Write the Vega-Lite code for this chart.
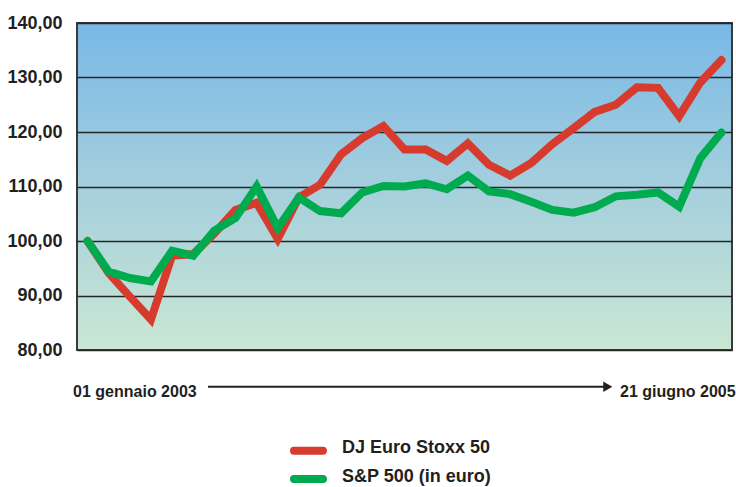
{
  "$schema": "https://vega.github.io/schema/vega-lite/v6.json",
  "width": 655,
  "height": 327,
  "autosize": {"type": "none"},
  "padding": {"left": 77, "top": 23, "right": 4, "bottom": 137},
  "background": "white",
  "config": {
    "locale": {"number": {"decimal": ",", "thousands": ".", "grouping": [3], "currency": ["€", ""]}},
    "font": "Liberation Sans, Arial, sans-serif",
    "view": {
      "stroke": "#3a3a3a",
      "strokeWidth": 2,
      "fill": {"gradient": "linear", "x1": 0, "y1": 0, "x2": 0, "y2": 1,
        "stops": [
          {"offset": 0, "color": "#78b8e6"},
          {"offset": 0.5, "color": "#a5cfdd"},
          {"offset": 1, "color": "#cae7d3"}
        ]}
    }
  },
  "data": {"values": [
    {"t": 0, "serie": "DJ Euro Stoxx 50", "v": 100.0},
    {"t": 1, "serie": "DJ Euro Stoxx 50", "v": 94.1},
    {"t": 2, "serie": "DJ Euro Stoxx 50", "v": 89.8},
    {"t": 3, "serie": "DJ Euro Stoxx 50", "v": 85.6},
    {"t": 4, "serie": "DJ Euro Stoxx 50", "v": 97.3},
    {"t": 5, "serie": "DJ Euro Stoxx 50", "v": 97.6},
    {"t": 6, "serie": "DJ Euro Stoxx 50", "v": 101.4},
    {"t": 7, "serie": "DJ Euro Stoxx 50", "v": 105.7},
    {"t": 8, "serie": "DJ Euro Stoxx 50", "v": 107.0},
    {"t": 9, "serie": "DJ Euro Stoxx 50", "v": 100.4},
    {"t": 10, "serie": "DJ Euro Stoxx 50", "v": 108.0},
    {"t": 11, "serie": "DJ Euro Stoxx 50", "v": 110.3},
    {"t": 12, "serie": "DJ Euro Stoxx 50", "v": 115.9},
    {"t": 13, "serie": "DJ Euro Stoxx 50", "v": 118.9},
    {"t": 14, "serie": "DJ Euro Stoxx 50", "v": 121.1},
    {"t": 15, "serie": "DJ Euro Stoxx 50", "v": 116.8},
    {"t": 16, "serie": "DJ Euro Stoxx 50", "v": 116.8},
    {"t": 17, "serie": "DJ Euro Stoxx 50", "v": 114.7},
    {"t": 18, "serie": "DJ Euro Stoxx 50", "v": 117.9},
    {"t": 19, "serie": "DJ Euro Stoxx 50", "v": 114.0},
    {"t": 20, "serie": "DJ Euro Stoxx 50", "v": 112.0},
    {"t": 21, "serie": "DJ Euro Stoxx 50", "v": 114.3},
    {"t": 22, "serie": "DJ Euro Stoxx 50", "v": 117.8},
    {"t": 23, "serie": "DJ Euro Stoxx 50", "v": 120.7},
    {"t": 24, "serie": "DJ Euro Stoxx 50", "v": 123.7},
    {"t": 25, "serie": "DJ Euro Stoxx 50", "v": 125.0},
    {"t": 26, "serie": "DJ Euro Stoxx 50", "v": 128.2},
    {"t": 27, "serie": "DJ Euro Stoxx 50", "v": 128.1},
    {"t": 28, "serie": "DJ Euro Stoxx 50", "v": 122.9},
    {"t": 29, "serie": "DJ Euro Stoxx 50", "v": 129.1},
    {"t": 30, "serie": "DJ Euro Stoxx 50", "v": 133.2},
    {"t": 0, "serie": "S&P 500 (in euro)", "v": 100.0},
    {"t": 1, "serie": "S&P 500 (in euro)", "v": 94.4},
    {"t": 2, "serie": "S&P 500 (in euro)", "v": 93.2},
    {"t": 3, "serie": "S&P 500 (in euro)", "v": 92.6},
    {"t": 4, "serie": "S&P 500 (in euro)", "v": 98.2},
    {"t": 5, "serie": "S&P 500 (in euro)", "v": 97.3},
    {"t": 6, "serie": "S&P 500 (in euro)", "v": 101.9},
    {"t": 7, "serie": "S&P 500 (in euro)", "v": 104.2},
    {"t": 8, "serie": "S&P 500 (in euro)", "v": 110.0},
    {"t": 9, "serie": "S&P 500 (in euro)", "v": 102.4},
    {"t": 10, "serie": "S&P 500 (in euro)", "v": 108.0},
    {"t": 11, "serie": "S&P 500 (in euro)", "v": 105.5},
    {"t": 12, "serie": "S&P 500 (in euro)", "v": 105.1},
    {"t": 13, "serie": "S&P 500 (in euro)", "v": 108.9},
    {"t": 14, "serie": "S&P 500 (in euro)", "v": 110.1},
    {"t": 15, "serie": "S&P 500 (in euro)", "v": 110.0},
    {"t": 16, "serie": "S&P 500 (in euro)", "v": 110.6},
    {"t": 17, "serie": "S&P 500 (in euro)", "v": 109.5},
    {"t": 18, "serie": "S&P 500 (in euro)", "v": 112.0},
    {"t": 19, "serie": "S&P 500 (in euro)", "v": 109.1},
    {"t": 20, "serie": "S&P 500 (in euro)", "v": 108.6},
    {"t": 21, "serie": "S&P 500 (in euro)", "v": 107.2},
    {"t": 22, "serie": "S&P 500 (in euro)", "v": 105.7},
    {"t": 23, "serie": "S&P 500 (in euro)", "v": 105.2},
    {"t": 24, "serie": "S&P 500 (in euro)", "v": 106.2},
    {"t": 25, "serie": "S&P 500 (in euro)", "v": 108.2},
    {"t": 26, "serie": "S&P 500 (in euro)", "v": 108.5},
    {"t": 27, "serie": "S&P 500 (in euro)", "v": 108.9},
    {"t": 28, "serie": "S&P 500 (in euro)", "v": 106.3},
    {"t": 29, "serie": "S&P 500 (in euro)", "v": 115.2},
    {"t": 30, "serie": "S&P 500 (in euro)", "v": 119.9}
  ]},
  "layer": [
    {
      "mark": {"type": "line", "strokeWidth": 8, "strokeCap": "round", "strokeJoin": "miter"},
      "encoding": {
        "x": {"field": "t", "type": "quantitative", "scale": {"domain": [-0.5, 30.5], "nice": false, "zero": false}, "axis": null},
        "y": {"field": "v", "type": "quantitative",
          "scale": {"domain": [80, 140], "nice": false, "zero": false},
          "axis": {"title": null, "values": [80, 90, 100, 110, 120, 130, 140], "format": ".2f",
            "domain": false, "ticks": false, "labelPadding": 15,
            "labelFont": "Liberation Sans, Arial, sans-serif",
            "labelFontSize": 18, "labelFontWeight": "bold", "labelColor": "#231f20",
            "gridColor": "#262626", "gridWidth": 1.3, "gridOpacity": 1}},
        "color": {"field": "serie", "type": "nominal",
          "scale": {"domain": ["DJ Euro Stoxx 50", "S&P 500 (in euro)"], "range": ["#d63b2d", "#00ab4f"]},
          "legend": null}
      }
    },
    {
      "data": {"values": [{}]},
      "mark": {"type": "text", "text": "01 gennaio 2003", "align": "right", "baseline": "alphabetic",
        "fontSize": 16, "fontWeight": "bold", "color": "#231f20"},
      "encoding": {"x": {"datum": 5.165}, "y": {"datum": 71.45}}
    },
    {
      "data": {"values": [{}]},
      "mark": {"type": "text", "text": "21 giugno 2005", "align": "left", "baseline": "alphabetic",
        "fontSize": 16, "fontWeight": "bold", "color": "#231f20"},
      "encoding": {"x": {"datum": 25.2}, "y": {"datum": 71.45}}
    },
    {
      "data": {"values": [{}]},
      "mark": {"type": "rule", "strokeWidth": 2, "color": "#231f20"},
      "encoding": {"x": {"datum": 5.7}, "x2": {"datum": 24.5}, "y": {"datum": 73.27}}
    },
    {
      "data": {"values": [{}]},
      "mark": {"type": "point", "shape": "triangle-right", "filled": true, "size": 110, "opacity": 1, "color": "#231f20"},
      "encoding": {"x": {"datum": 24.62}, "y": {"datum": 73.27}}
    },
    {
      "data": {"values": [{}]},
      "mark": {"type": "rule", "strokeWidth": 8, "strokeCap": "round"},
      "encoding": {"x": {"datum": 9.77}, "x2": {"datum": 11.14}, "y": {"datum": 61.52},
        "color": {"datum": "DJ Euro Stoxx 50"}}
    },
    {
      "data": {"values": [{}]},
      "mark": {"type": "rule", "strokeWidth": 8, "strokeCap": "round"},
      "encoding": {"x": {"datum": 9.77}, "x2": {"datum": 11.14}, "y": {"datum": 56.33},
        "color": {"datum": "S&P 500 (in euro)"}}
    },
    {
      "data": {"values": [{}]},
      "mark": {"type": "text", "text": "DJ Euro Stoxx 50", "align": "left", "baseline": "alphabetic",
        "fontSize": 18, "fontWeight": "bold", "color": "#231f20"},
      "encoding": {"x": {"datum": 12.04}, "y": {"datum": 61.1}}
    },
    {
      "data": {"values": [{}]},
      "mark": {"type": "text", "text": "S&P 500 (in euro)", "align": "left", "baseline": "alphabetic",
        "fontSize": 18, "fontWeight": "bold", "color": "#231f20"},
      "encoding": {"x": {"datum": 12.04}, "y": {"datum": 55.8}}
    }
  ]
}
